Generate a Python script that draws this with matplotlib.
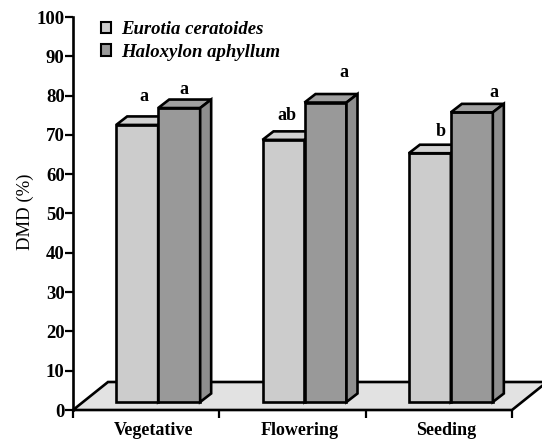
import matplotlib
matplotlib.use("Agg")
import matplotlib.pyplot as plt
from matplotlib.patches import Polygon, Patch

# ---------------- data ----------------
categories = ["Vegetative", "Flowering", "Seeding"]
series_names = ["Eurotia ceratoides", "Haloxylon aphyllum"]
eurotia = [70.5, 66.7, 63.3]
haloxylon = [74.8, 76.2, 73.7]
eurotia_letters = ["a", "ab", "b"]
haloxylon_letters = ["a", "a", "a"]
yticks = list(range(0, 101, 10))

# ---------------- style ----------------
W, H = 542, 440
SERIF = ["Liberation Serif", "DejaVu Serif"]
plt.rcParams["font.family"] = SERIF
LW = 1.9
light_front, light_top, light_side = "#cccccc", "#d2d2d2", "#bdbdbd"
dark_front, dark_top, dark_side = "#999999", "#a0a0a0", "#8e8e8e"
floor_color = "#e2e2e2"

fig = plt.figure(figsize=(W / 100, H / 100), dpi=100)
x0, x1, y0, y1 = 73, 512, 410, 17
ax = fig.add_axes([x0 / W, 1 - y0 / H, (x1 - x0) / W, (y0 - y1) / H])
ax.set_xlim(0, len(categories))
ax.set_ylim(0, 100)
PX = (x1 - x0) / len(categories)
PY = (y0 - y1) / 100.0


def dxp(p):
    return p / PX


def dyp(p):
    return p / PY


# floor
fdx, fdy = dxp(35), dyp(28)
n = len(categories)
ax.add_patch(Polygon([(0, 0), (n, 0), (n + fdx, fdy), (fdx, fdy)], closed=True,
                     fc=floor_color, ec="k", lw=LW, clip_on=False, zorder=1,
                     joinstyle="miter"))

# bars
bw = dxp(42)
shift = dxp(12)
base = dyp(8)
ddx, ddy = dxp(11), dyp(8.5)


def bar3d(xl, yt, front, top, side):
    yb = base
    kw = dict(ec="k", lw=LW, clip_on=False, zorder=3, joinstyle="miter", closed=True)
    ax.add_patch(Polygon([(xl, yb), (xl + bw, yb), (xl + bw, yt), (xl, yt)], fc=front, **kw))
    ax.add_patch(Polygon([(xl, yt), (xl + bw, yt), (xl + bw + ddx, yt + ddy), (xl + ddx, yt + ddy)],
                         fc=top, **kw))
    ax.add_patch(Polygon([(xl + bw, yb), (xl + bw + ddx, yb + ddy), (xl + bw + ddx, yt + ddy),
                          (xl + bw, yt)], fc=side, **kw))


# label offsets (pixels) relative to top-back centre of bar
lab_off_e = [(1.5, 20), (-2.5, 16), (5.5, 13)]
lab_off_h = [(-0.5, 10), (13, 22), (16.5, 11)]

for i in range(n):
    c = i + 0.5 + shift
    xl_e = c - bw
    xl_h = c
    yt_e = eurotia[i] + base
    yt_h = haloxylon[i] + base
    bar3d(xl_e, yt_e, light_front, light_top, light_side)
    bar3d(xl_h, yt_h, dark_front, dark_top, dark_side)
    ox, oy = lab_off_e[i]
    ax.text(xl_e + bw / 2 + ddx / 2 + dxp(ox), yt_e + ddy + dyp(oy), eurotia_letters[i],
            ha="center", va="center", fontsize=13, fontweight="bold", zorder=5)
    ox, oy = lab_off_h[i]
    ax.text(xl_h + bw / 2 + ddx / 2 + dxp(ox), yt_h + ddy + dyp(oy), haloxylon_letters[i],
            ha="center", va="center", fontsize=13, fontweight="bold", zorder=5)

# axes styling
for s in ["top", "right", "bottom"]:
    ax.spines[s].set_visible(False)
ax.spines["left"].set_linewidth(LW)
ax.spines["left"].set_zorder(4)
ax.set_yticks(yticks)
ax.set_yticklabels([str(v) for v in yticks], fontsize=13.5, fontweight="bold")
ax.tick_params(axis="y", direction="out", length=5.5, width=1.6, pad=0.5)
ax.set_xticks(range(n + 1))
ax.set_xticklabels([""] * (n + 1))
ax.tick_params(axis="x", direction="out", length=6, width=1.6)
for i, cat in enumerate(categories):
    ax.text(i + 0.5 + dxp(7), -dyp(24.5), cat, ha="center", va="baseline",
            fontsize=13, fontweight="bold", clip_on=False)

fig.text(25 / W, 1 - 212 / H, "DMD (%)", rotation=90, ha="center", va="center", fontsize=13.5)

# legend
handles = [Patch(fc=light_front, ec="k", lw=1.5), Patch(fc=dark_front, ec="k", lw=1.5)]
leg = fig.legend(handles, series_names, loc="upper left",
                 bbox_to_anchor=(101 / W, 1 - 21 / H),
                 prop=dict(family=SERIF, style="italic", weight="bold", size=13.5),
                 frameon=False, handlelength=0.55, handleheight=0.55, handletextpad=0.55,
                 labelspacing=0.3, borderpad=0, borderaxespad=0)

fig.savefig("out.png", dpi=100)
